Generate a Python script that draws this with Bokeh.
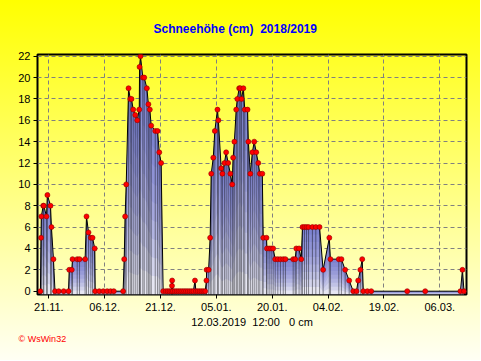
from datetime import datetime
import numpy as np
import pandas as pd
from bokeh.plotting import figure
from bokeh.models import Range1d, FixedTicker, DatetimeTickFormatter, Title
from bokeh.embed import file_html
from bokeh.resources import INLINE

# ---------------- data ----------------
times = [
    "2018-11-18 18:00", "2018-11-18 22:00", "2018-11-19 00:00", "2018-11-19 12:00",
    "2018-11-19 16:00", "2018-11-20 09:00", "2018-11-20 15:00", "2018-11-21 11:00",
    "2018-11-21 17:00", "2018-11-22 06:00", "2018-11-22 16:00", "2018-11-23 16:00",
    "2018-11-25 00:00", "2018-11-26 07:00", "2018-11-26 12:00", "2018-11-27 04:00",
    "2018-11-27 09:00", "2018-11-28 15:00", "2018-11-29 06:00", "2018-11-30 18:00",
    "2018-12-01 03:00", "2018-12-01 16:00", "2018-12-02 07:00", "2018-12-02 18:00",
    "2018-12-03 08:00", "2018-12-03 11:00", "2018-12-04 13:00", "2018-12-05 15:00",
    "2018-12-06 16:00", "2018-12-07 14:00", "2018-12-08 11:00", "2018-12-10 23:00",
    "2018-12-11 06:00", "2018-12-11 12:00", "2018-12-11 19:00", "2018-12-12 10:00",
    "2018-12-12 21:00", "2018-12-13 05:00", "2018-12-13 16:00", "2018-12-14 05:00",
    "2018-12-14 18:00", "2018-12-15 07:00", "2018-12-15 09:00", "2018-12-15 15:00",
    "2018-12-16 06:00", "2018-12-16 15:00", "2018-12-17 08:00", "2018-12-17 18:00",
    "2018-12-18 03:00", "2018-12-18 12:00", "2018-12-19 14:00", "2018-12-20 05:00",
    "2018-12-20 16:00", "2018-12-21 04:00", "2018-12-21 17:00", "2018-12-22 10:00",
    "2018-12-22 22:00", "2018-12-23 10:00", "2018-12-23 22:00", "2018-12-24 02:00",
    "2018-12-24 03:00", "2018-12-24 08:00", "2018-12-24 20:00", "2018-12-25 08:00",
    "2018-12-25 20:00", "2018-12-26 08:00", "2018-12-26 20:00", "2018-12-27 08:00",
    "2018-12-27 20:00", "2018-12-28 08:00", "2018-12-28 20:00", "2018-12-29 08:00",
    "2018-12-29 20:00", "2018-12-30 06:00", "2018-12-30 12:00", "2018-12-31 00:00",
    "2018-12-31 12:00", "2019-01-01 00:00", "2019-01-01 12:00", "2019-01-02 00:00",
    "2019-01-02 08:00", "2019-01-02 09:00", "2019-01-02 22:00", "2019-01-03 08:00",
    "2019-01-03 15:00", "2019-01-04 04:00", "2019-01-04 14:00", "2019-01-05 07:00",
    "2019-01-05 13:00", "2019-01-06 07:00", "2019-01-06 15:00", "2019-01-07 04:00",
    "2019-01-07 15:00", "2019-01-08 04:00", "2019-01-08 18:00", "2019-01-09 06:00",
    "2019-01-09 12:00", "2019-01-09 20:00", "2019-01-10 08:00", "2019-01-10 15:00",
    "2019-01-11 03:00", "2019-01-11 10:00", "2019-01-11 18:00", "2019-01-12 06:00",
    "2019-01-12 15:00", "2019-01-13 09:00", "2019-01-13 14:00", "2019-01-14 03:00",
    "2019-01-14 16:00", "2019-01-15 04:00", "2019-01-15 17:00", "2019-01-16 06:00",
    "2019-01-16 16:00", "2019-01-17 08:00", "2019-01-17 14:00", "2019-01-18 11:00",
    "2019-01-18 14:00", "2019-01-19 04:00", "2019-01-19 17:00", "2019-01-20 06:00",
    "2019-01-20 19:00", "2019-01-21 12:00", "2019-01-22 05:00", "2019-01-22 23:00",
    "2019-01-23 13:00", "2019-01-25 15:00", "2019-01-26 04:00", "2019-01-26 11:00",
    "2019-01-27 05:00", "2019-01-27 19:00", "2019-01-28 03:00", "2019-01-28 16:00",
    "2019-01-29 05:00", "2019-01-29 18:00", "2019-01-30 19:00", "2019-01-31 17:00",
    "2019-02-01 17:00", "2019-02-02 16:00", "2019-02-04 08:00", "2019-02-04 15:00",
    "2019-02-06 21:00", "2019-02-07 14:00", "2019-02-08 14:00", "2019-02-09 16:00",
    "2019-02-10 18:00", "2019-02-11 15:00", "2019-02-12 02:00", "2019-02-12 16:00",
    "2019-02-13 04:00", "2019-02-13 11:00", "2019-02-14 13:00", "2019-02-15 14:00",
    "2019-02-25 06:00", "2019-03-02 02:00", "2019-03-11 13:00", "2019-03-12 02:00",
    "2019-03-12 12:00",
]
depth_cm = [
    0, 5, 7, 8,
    8, 7, 9, 8,
    6, 3, 0, 0,
    0, 0, 2, 2,
    3, 3, 3, 3,
    7, 5.5, 5, 5,
    4, 0, 0, 0,
    0, 0, 0, 0,
    3, 7, 10, 19,
    18, 18, 17, 16.5,
    16, 17, 21, 22,
    20, 20, 19, 17.5,
    17, 15.5, 15, 15,
    13, 12, 0, 0,
    0, 0, 0, 0.5,
    1, 0, 0, 0,
    0, 0, 0, 0,
    0, 0, 0, 0,
    0, 1, 0, 0,
    0, 0, 0, 0,
    1, 2, 2, 5,
    11, 12.5, 15, 17,
    16, 11.5, 11, 12,
    13, 12, 11, 10,
    12.5, 14, 17, 18,
    19, 19, 18, 19,
    17, 17, 14, 11,
    13, 14, 13, 12,
    11, 11, 5, 5,
    4, 4, 4, 4,
    3, 3, 3, 3,
    3, 3, 3, 4,
    4, 3, 6, 6,
    6, 6, 6, 6,
    6, 2, 5, 3,
    3, 3, 2, 1,
    0, 0, 1, 2,
    3, 0, 0, 0,
    0, 0, 0, 2,
    0,
]
tick_dates = ["2018-11-21", "2018-12-06", "2018-12-21", "2019-01-05",
              "2019-01-20", "2019-02-04", "2019-02-19", "2019-03-06"]
y_ticks = [0, 2, 4, 6, 8, 10, 12, 14, 16, 18, 20, 22]

title_text = "Schneehöhe (cm)\u00a0\u00a02018/2019"
status_text = "12.03.2019\u00a0\u00a012:00\u00a0\u00a0\u00a00 cm"
credit_text = "© WsWin32"

# ---------------- figure ----------------
xs = pd.to_datetime(times)
v = np.array(depth_cm, dtype=float)
y0, y1 = -0.31, 22.16

p = figure(width=480, height=360, x_axis_type="datetime",
           x_range=Range1d(datetime(2018, 11, 17, 23, 11), datetime(2019, 3, 13, 4, 5)),
           y_range=Range1d(y0, y1),
           output_backend="svg", toolbar_location=None,
           min_border_left=37, min_border_right=14, min_border_top=54, min_border_bottom=66)
p.background_fill_alpha = 0
p.border_fill_alpha = 0
p.stylesheets = [":host { background: linear-gradient(to bottom, #ffff00 0%, #fffff4 100%); }"]
p.outline_line_color = "black"
p.outline_line_width = 2

# title (above) and credit (below)
p.title.text = title_text
p.title.align = "left"
p.title.offset = 116
p.title.standoff = 37
p.title.text_color = "#0000ff"
p.title.text_font = "Liberation Sans"
p.title.text_font_size = "12px"
p.title.text_font_style = "bold"

credit = Title(text=credit_text, align="left", offset=-19, standoff=2,
               text_color="#ff0000", text_font="Liberation Sans",
               text_font_size="9px", text_font_style="normal")
p.add_layout(credit, "below")

# filled area with vertical gradient
p.varea(x=xs, y1=y0, y2=v, fill_color="#e6e6f2", fill_alpha=1)
N = 8
for k in range(1, N + 1):
    p.varea(x=xs, y1=y0 + (v - y0) * k / (N + 1), y2=v, fill_color="#4a52c0", fill_alpha=0.13)
p.segment(x0=xs, y0=y0, x1=xs, y1=v, line_color="black", line_dash="1 1",
          line_alpha=0.85, line_width=1)
p.line(xs, v, line_color="black", line_width=1)
p.scatter(xs, v, size=5, fill_color="#ff0000", line_color="#900000", line_width=0.6)

# axes
tick_ms = [pd.Timestamp(t).value / 1e6 for t in tick_dates]
p.xaxis.ticker = FixedTicker(ticks=tick_ms)
fmt = "%d.%m."
p.xaxis.formatter = DatetimeTickFormatter(days=fmt, months=fmt, hours=fmt, years=fmt)
p.yaxis.ticker = FixedTicker(ticks=y_ticks)
for ax in (p.xaxis, p.yaxis):
    ax.axis_line_color = None
    ax.major_tick_in = 0
    ax.major_tick_out = 4
    ax.major_tick_line_color = "black"
    ax.minor_tick_line_color = None
    ax.major_label_text_font = "Liberation Sans"
    ax.major_label_text_font_size = "11px"
    ax.major_label_text_color = "black"
p.yaxis.major_label_standoff = 3
p.xaxis.major_label_standoff = 4
p.xaxis.axis_label = status_text
p.xaxis.axis_label_text_font = "Liberation Sans"
p.xaxis.axis_label_text_font_size = "11px"
p.xaxis.axis_label_text_font_style = "normal"
p.xaxis.axis_label_text_color = "black"
p.xaxis.axis_label_standoff = 2

for g in (p.xgrid, p.ygrid):
    g.grid_line_color = "#808080"
    g.grid_line_dash = "4 3"
    g.grid_line_width = 1
p.ygrid.ticker = FixedTicker(ticks=y_ticks)

open("out.html", "w").write(file_html(p, INLINE))
